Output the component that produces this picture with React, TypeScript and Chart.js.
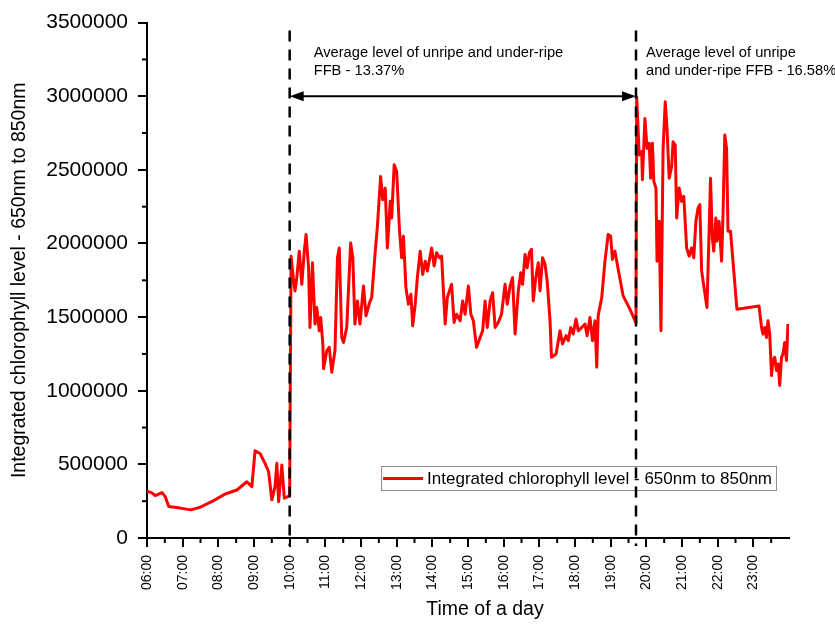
import React, { useEffect, useRef } from "react";
import { Chart, registerables } from "chart.js";

Chart.register(...registerables);

// Time of day, decimal hours
const hours = [
  6.0, 6.14, 6.23, 6.42, 6.51, 6.61, 6.93, 7.23, 7.49, 7.87, 8.19, 8.52, 8.8, 8.94,
  9.03, 9.17, 9.31, 9.41, 9.5, 9.59, 9.64, 9.69, 9.78, 9.85, 9.95, 10.0,
  10.04, 10.11, 10.15, 10.2, 10.27, 10.34, 10.41, 10.46, 10.53, 10.57, 10.64, 10.71,
  10.76, 10.83, 10.87, 10.93, 10.95, 11.04, 11.11, 11.18, 11.27, 11.34, 11.39, 11.46,
  11.51, 11.6, 11.71, 11.77, 11.83, 11.9, 11.97, 12.07, 12.14, 12.24, 12.3, 12.4,
  12.46, 12.55, 12.61, 12.68, 12.74, 12.82, 12.86, 12.93, 13.0, 13.08, 13.14, 13.19,
  13.26, 13.33, 13.4, 13.45, 13.52, 13.58, 13.66, 13.73, 13.8, 13.86, 13.98, 14.05,
  14.12, 14.2, 14.26, 14.36, 14.42, 14.54, 14.61, 14.68, 14.78, 14.85, 14.92, 15.01,
  15.08, 15.15, 15.24, 15.34, 15.41, 15.48, 15.54, 15.62, 15.69, 15.76, 15.85, 15.94,
  16.04, 16.1, 16.18, 16.25, 16.32, 16.41, 16.48, 16.53, 16.6, 16.66, 16.72, 16.78,
  16.83, 16.9, 16.97, 17.02, 17.09, 17.16, 17.22, 17.3, 17.34, 17.47, 17.58, 17.65,
  17.75, 17.81, 17.88, 17.95, 18.03, 18.09, 18.19, 18.28, 18.34, 18.42, 18.49, 18.56,
  18.61, 18.65, 18.75, 18.84, 18.93, 19.0, 19.05, 19.12, 19.17, 19.35, 19.54, 19.71,
  19.73, 19.8, 19.87, 19.89, 19.96, 20.02, 20.08, 20.12, 20.17, 20.21, 20.27, 20.3,
  20.36, 20.41, 20.47, 20.53, 20.58, 20.64, 20.71, 20.75, 20.81, 20.85, 20.92, 20.99,
  21.05, 21.13, 21.2, 21.27, 21.33, 21.39, 21.45, 21.5, 21.55, 21.7, 21.76, 21.8,
  21.85, 21.89, 21.95, 21.98, 22.04, 22.11, 22.15, 22.2, 22.25, 22.29, 22.36, 22.54,
  23.16, 23.23, 23.27, 23.32, 23.37, 23.41, 23.46, 23.51, 23.55, 23.6, 23.65, 23.7,
  23.74, 23.79, 23.83, 23.88, 23.93, 23.97,
];

// Integrated chlorophyll level, 650nm to 850nm
const chlorophyll = [
  318000, 306000, 288000, 308000, 281000, 214000, 203000, 191000, 209000, 254000, 299000, 326000, 382000, 349000,
  592000, 574000, 507000, 450000, 259000, 349000, 507000, 247000, 495000, 270000, 281000, 290000,
  1914000, 1745000, 1678000, 1768000, 1948000, 1723000, 1948000, 2061000, 1835000, 1430000, 1869000, 1453000,
  1565000, 1407000, 1497000, 1318000, 1149000, 1272000, 1295000, 1126000, 1272000, 1903000, 1970000, 1362000,
  1328000, 1430000, 2004000, 1903000, 1453000, 1610000, 1453000, 1712000, 1509000, 1599000, 1633000, 1948000,
  2117000, 2455000, 2297000, 2376000, 1970000, 2286000, 2173000, 2534000, 2489000, 2083000, 1903000, 2049000,
  1700000, 1588000, 1655000, 1441000, 1588000, 1768000, 1948000, 1790000, 1880000, 1813000, 1970000, 1847000,
  1937000, 1903000, 1914000, 1453000, 1633000, 1723000, 1464000, 1520000, 1475000, 1610000, 1520000, 1712000,
  1520000, 1475000, 1295000, 1362000, 1407000, 1610000, 1430000, 1610000, 1666000, 1430000, 1464000, 1520000,
  1723000, 1588000, 1712000, 1768000, 1385000, 1678000, 1802000, 1723000, 1926000, 1835000, 1937000, 1960000,
  1610000, 1768000, 1869000, 1678000, 1903000, 1858000, 1745000, 1475000, 1227000, 1250000, 1407000, 1318000,
  1374000, 1340000, 1430000, 1385000, 1487000, 1407000, 1430000, 1453000, 1374000, 1497000, 1340000, 1475000,
  1160000, 1509000, 1633000, 1880000, 2061000, 2049000, 1892000, 1948000, 1880000, 1644000, 1554000, 1460000,
  2995000, 2601000, 2624000, 2433000, 2849000, 2646000, 2680000, 2443000, 2680000, 2421000, 2376000, 1880000,
  2151000, 1407000, 2646000, 2962000, 2781000, 2443000, 2523000, 2691000, 2669000, 2173000, 2376000, 2286000,
  2320000, 1970000, 1914000, 1970000, 1903000, 2151000, 2241000, 2264000, 1813000, 1565000, 2083000, 2443000,
  2038000, 1948000, 2173000, 2016000, 2151000, 1880000, 2196000, 2736000, 2646000, 2083000, 2083000, 1554000,
  1576000, 1430000, 1385000, 1430000, 1362000, 1475000, 1385000, 1103000, 1205000, 1227000, 1137000, 1182000,
  1036000, 1227000, 1250000, 1328000, 1205000, 1453000,
];

const seriesLabel = "Integrated chlorophyll level - 650nm to 850nm";
const xTitle = "Time of a day";
const yTitle = "Integrated chlorophyll level - 650nm to 850nm";

// Boundaries of the two sampling periods (decimal hours)
const periodMarkers = [10.0, 19.71];
const arrowLevel = 3000000;
const noteFirst = ["Average level of unripe and under-ripe", "FFB - 13.37%"];
const noteSecond = ["Average level of unripe", "and under-ripe FFB - 16.58%"];

const FONT = '"Liberation Sans", Arial, Helvetica, sans-serif';

function hourLabel(h: number): string {
  const hh = Math.floor(h);
  return (hh < 10 ? "0" : "") + hh + ":00";
}

const decorPlugin = {
  id: "decor",
  afterDatasetsDraw(chart: any) {
    const { ctx, chartArea: a, scales } = chart;
    const x = scales.x;
    const y = scales.y;
    const seg = (x1: number, y1: number, x2: number, y2: number) => {
      ctx.beginPath();
      ctx.moveTo(x1, y1);
      ctx.lineTo(x2, y2);
      ctx.stroke();
    };
    ctx.save();

    // minor ticks
    ctx.strokeStyle = "#000";
    ctx.lineWidth = 2;
    for (let v = 250000; v < 3500000; v += 500000) {
      const py = y.getPixelForValue(v);
      seg(a.left - 5, py, a.left, py);
    }
    for (let h = 6.5; h < 24; h += 1) {
      const px = x.getPixelForValue(h);
      seg(px, a.bottom, px, a.bottom + 5);
    }

    // legend
    const ds = chart.data.datasets[0];
    ctx.font = `17px ${FONT}`;
    const tw = ctx.measureText(ds.label).width;
    const boxRight = a.right - 13;
    const boxW = 46 + tw + 4;
    const boxLeft = boxRight - boxW;
    const boxTop = a.bottom - 72;
    const boxH = 24;
    ctx.strokeStyle = "#8c8c8c";
    ctx.lineWidth = 1;
    ctx.strokeRect(boxLeft + 0.5, boxTop + 0.5, boxW, boxH);
    ctx.strokeStyle = ds.borderColor;
    ctx.lineWidth = 3;
    seg(boxLeft + 2, boxTop + boxH / 2 + 0.5, boxLeft + 42, boxTop + boxH / 2 + 0.5);
    ctx.fillStyle = "#000";
    ctx.textBaseline = "middle";
    ctx.textAlign = "left";
    ctx.fillText(ds.label, boxLeft + 46, boxTop + boxH / 2 + 1);

    // dashed period boundaries
    ctx.strokeStyle = "#000";
    ctx.lineWidth = 2.5;
    ctx.setLineDash([11, 8]);
    const mx = periodMarkers.map((t) => x.getPixelForValue(t));
    mx.forEach((px) => seg(px, a.top + 8, px, a.bottom + 8));
    ctx.setLineDash([]);

    // double-headed arrow between the boundaries
    const ay = y.getPixelForValue(arrowLevel);
    const head = 14;
    const half = 5;
    ctx.lineWidth = 2;
    seg(mx[0] + head - 2, ay, mx[1] - head + 2, ay);
    ctx.fillStyle = "#000";
    ctx.beginPath();
    ctx.moveTo(mx[0], ay);
    ctx.lineTo(mx[0] + head, ay - half);
    ctx.lineTo(mx[0] + head, ay + half);
    ctx.closePath();
    ctx.fill();
    ctx.beginPath();
    ctx.moveTo(mx[1], ay);
    ctx.lineTo(mx[1] - head, ay - half);
    ctx.lineTo(mx[1] - head, ay + half);
    ctx.closePath();
    ctx.fill();

    // period notes
    ctx.font = `14.7px ${FONT}`;
    ctx.textBaseline = "middle";
    ctx.textAlign = "left";
    noteFirst.forEach((s, i) => ctx.fillText(s, mx[0] + 24, a.top + 30 + i * 18));
    noteSecond.forEach((s, i) => ctx.fillText(s, mx[1] + 10, a.top + 30 + i * 18));

    // axis titles
    ctx.font = `19.5px ${FONT}`;
    ctx.textAlign = "center";
    ctx.textBaseline = "middle";
    ctx.fillText(xTitle, (a.left + a.right) / 2 + 17, 610);
    ctx.translate(20, (a.top + a.bottom) / 2);
    ctx.rotate(-Math.PI / 2);
    ctx.fillText(yTitle, 0, 0);

    ctx.restore();
  },
};

export default function App() {
  const canvasRef = useRef<HTMLCanvasElement | null>(null);

  useEffect(() => {
    const canvas = canvasRef.current;
    if (!canvas) return;
    const points = hours.map((h, i) => ({ x: h, y: chlorophyll[i] }));
    const chart = new Chart(canvas, {
      type: "line",
      data: {
        datasets: [
          {
            label: seriesLabel,
            data: points,
            borderColor: "#ff0000",
            borderWidth: 3,
            pointRadius: 0,
            tension: 0,
            borderJoinStyle: "round",
            fill: false,
          },
        ],
      },
      options: {
        animation: false,
        responsive: false,
        maintainAspectRatio: false,
        devicePixelRatio: 1,
        layout: { padding: { left: 0, top: 20, right: 46, bottom: 0 } },
        plugins: {
          legend: { display: false },
          tooltip: { enabled: false },
          title: { display: false },
        },
        scales: {
          x: {
            type: "linear",
            min: 6,
            max: 24,
            afterBuildTicks: (scale: any) => {
              scale.ticks = scale.ticks.filter((t: any) => t.value < 24);
            },
            afterFit: (scale: any) => {
              scale.height = 89;
            },
            ticks: {
              stepSize: 1,
              autoSkip: false,
              minRotation: 90,
              maxRotation: 90,
              padding: 8,
              color: "#000",
              font: { family: FONT, size: 14 },
              callback: (v: any) => hourLabel(Number(v)),
            },
            grid: {
              display: true,
              drawOnChartArea: false,
              drawTicks: true,
              tickLength: 9,
              tickWidth: 2,
              tickColor: "#000",
              color: "#000",
              lineWidth: 2,
            },
            border: { display: true, color: "#000", width: 2 },
          },
          y: {
            type: "linear",
            min: 0,
            max: 3500000,
            afterFit: (scale: any) => {
              scale.width = 147;
            },
            ticks: {
              stepSize: 500000,
              padding: 10,
              color: "#000",
              font: { family: FONT, size: 21 },
              callback: (v: any) => String(v),
            },
            grid: {
              display: true,
              drawOnChartArea: false,
              drawTicks: true,
              tickLength: 9,
              tickWidth: 2,
              tickColor: "#000",
              color: "#000",
              lineWidth: 2,
            },
            border: { display: true, color: "#000", width: 2 },
          },
        },
      },
      plugins: [decorPlugin],
    });
    return () => chart.destroy();
  }, []);

  return (
    <div style={{ position: "absolute", left: 0, top: 0, width: 835, height: 627, background: "#fff" }}>
      <canvas ref={canvasRef} width={835} height={627} style={{ display: "block" }} />
    </div>
  );
}
